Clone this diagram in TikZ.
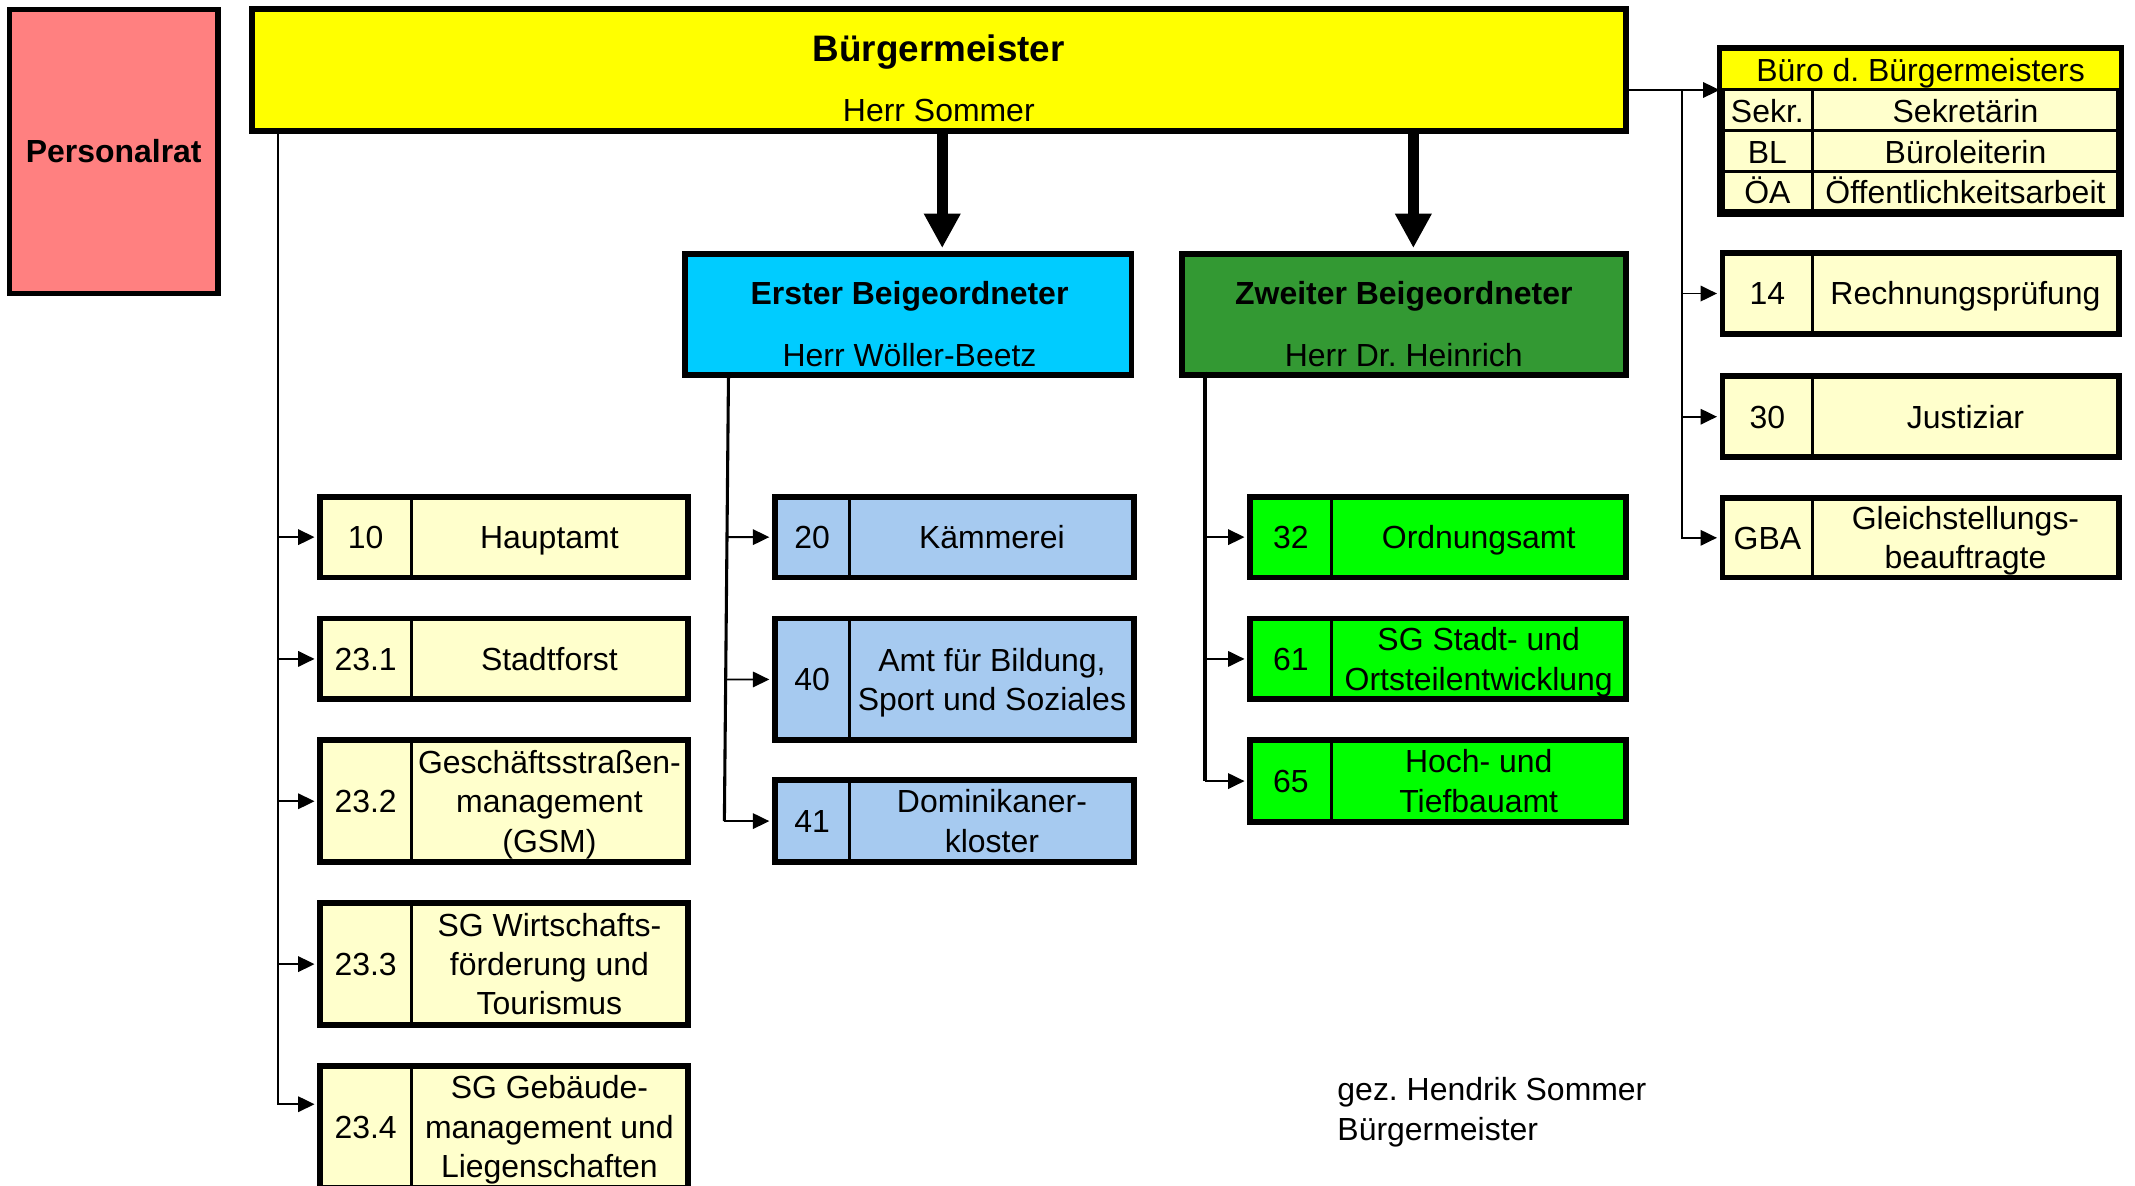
\documentclass[tikz,border=0pt]{standalone}
\usepackage{fontspec}
\setmainfont{Liberation Sans}
\usetikzlibrary{arrows.meta,fit,calc}
\frenchspacing
\definecolor{cPers}{HTML}{FF8080}
\definecolor{cBM}{HTML}{FFFF00}
\definecolor{cErst}{HTML}{00CCFF}
\definecolor{cZweit}{HTML}{339933}
\definecolor{cLight}{HTML}{FFFFCC}
\definecolor{cBlue}{HTML}{A6CAF0}
\definecolor{cGreen}{HTML}{00FF00}
\newcommand\tstrut{\rule[-4.6pt]{0pt}{21.75pt}}
\tikzset{
  box/.style={draw=black, line width=3.2pt, inner sep=0pt},
  divider/.style={line width=1.6pt},
  txt/.style={font=\fontsize{17.6}{21.75}\selectfont, align=center, inner sep=0pt,
    execute at begin node=\tstrut, execute at end node=\tstrut},
  ttl/.style={font=\bfseries\fontsize{17.6}{21.75}\selectfont, inner sep=0pt,
    execute at begin node=\tstrut},
  conn/.style={line width=1pt},
  trunk/.style={line width=1.7pt},
  arr/.style={conn, -{Triangle[length=9pt,width=8.5pt]}, shorten >=1.4pt},
  big/.style={line width=6pt, -{Triangle[length=19pt,width=19pt]}, shorten >=1.6pt},
}
\newcommand\deptbox[9]{%
  \node[box, fill=#7, fit={(#2,#3) (#4,#5)}] (#1) {};
  \draw[divider] (#6,#3) -- (#6,#5);
  \node[txt] (#1-num) at ($(#2,#3)!0.5!(#6,#5)$) {\tstrut#8\tstrut};
  \node[txt] (#1-lbl) at ($(#6,#3)!0.5!(#4,#5)$) {\tstrut#9\tstrut};
}
\begin{document}
\begin{tikzpicture}[x=0.75pt,y=-0.7538pt]
\useasboundingbox (0,0) rectangle (1568,866.6);
% Personalrat
\node[box, fill=cPers, fit={(7,7) (160,214.5)}] (pr) {};
\node[ttl] (pr-t) at (pr.center) {Personalrat};
% Buergermeister
\node[box, fill=cBM, fit={(185,6.5) (1194,95.5)}] (bm) {};
\node[ttl, font=\bfseries\fontsize{20.3}{24}\selectfont] (bm-t) at (689.5,36.5) {Bürgermeister};
\node[txt] (bm-n) at (689.5,80.5) {Herr Sommer};
% Erster
\node[box, fill=cErst, fit={(503,185.5) (831,274)}] (erster) {};
\node[ttl] (erster-t) at (668,214) {Erster Beigeordneter};
\node[txt] (erster-n) at (668,259.5) {Herr Wöller-Beetz};
% Zweiter
\node[box, fill=cZweit, fit={(868,185.5) (1194,274)}] (zweiter) {};
\node[ttl] (zweiter-t) at (1031,214) {Zweiter Beigeordneter};
\node[txt] (zweiter-n) at (1031,259.5) {Herr Dr. Heinrich};
% Buero
\node[box, fill=cLight, fit={(1265,37) (1556,154.5)}] (buero) {};
\node[fill=cBM, inner sep=0pt, fit={(1265,37) (1556,65.5)}] (bhead) {};
\draw[divider] (1265,65.5) -- (1556,65.5);
\draw[divider] (1265,95.3) -- (1556,95.3);
\draw[divider] (1265,125) -- (1556,125);
\draw[divider] (1331,65.5) -- (1331,154.5);
\draw[line width=3.2pt] (buero.north west) rectangle (buero.south east);
\node[txt] (bhead-t) at (1410.5,51.5) {Büro d. Bürgermeisters};
\node[txt] (b1a) at (1298,81) {Sekr.};
\node[txt] (b1b) at (1443.5,81) {Sekretärin};
\node[txt] (b2a) at (1298,111) {BL};
\node[txt] (b2b) at (1443.5,111) {Büroleiterin};
\node[txt] (b3a) at (1298,140.5) {ÖA};
\node[txt] (b3b) at (1443.5,140.5) {Öffentlichkeitsarbeit};
% departments
\deptbox{d10}{235}{363}{505}{422}{302}{cLight}{10}{Hauptamt}
\deptbox{d231}{235}{452}{505}{511}{302}{cLight}{23.1}{Stadtforst}
\deptbox{d232}{235}{541}{505}{630}{302}{cLight}{23.2}{Geschäftsstraßen-\\management\\(GSM)}
\deptbox{d233}{235}{660}{505}{749}{302}{cLight}{23.3}{SG Wirtschafts-\\förderung und\\Tourismus}
\deptbox{d234}{235}{779}{505}{868}{302}{cLight}{23.4}{SG Gebäude-\\management und\\Liegenschaften}
\deptbox{d20}{569}{363}{833}{422}{624}{cBlue}{20}{Kämmerei}
\deptbox{d40}{569}{452}{833}{541}{624}{cBlue}{40}{Amt für Bildung,\\Sport und Soziales}
\deptbox{d41}{569}{570}{833}{630}{624}{cBlue}{41}{Dominikaner-\\kloster}
\deptbox{d32}{918}{363}{1194}{422}{978}{cGreen}{32}{Ordnungsamt}
\deptbox{d61}{918}{452}{1194}{511}{978}{cGreen}{61}{SG Stadt- und\\Ortsteilentwicklung}
\deptbox{d65}{918}{541}{1194}{600.5}{978}{cGreen}{65}{Hoch- und\\Tiefbauamt}
\deptbox{d14}{1265}{185}{1556}{244}{1331}{cLight}{14}{Rechnungsprüfung}
\deptbox{d30}{1265}{275}{1556}{334}{1331}{cLight}{30}{Justiziar}
\deptbox{gba}{1265}{364}{1556}{422}{1331}{cLight}{GBA}{Gleichstellungs-\\beauftragte}
% connectors
\coordinate (lt) at (204,0);
\coordinate (mtop) at (535,0);
\coordinate (mbot) at (532,0);
\coordinate (zt) at (885,0);
\coordinate (rt) at (1235,0);
\coordinate (a1) at (692,0);
\coordinate (a2) at (1038,0);
\draw[big] (a1 |- bm.south) -- (a1 |- erster.north);
\draw[big] (a2 |- bm.south) -- (a2 |- zweiter.north);
% left trunk
\coordinate (c234) at ($(d234.north west)+(0,30)$);
\draw[arr] (lt |- bm.south) |- (c234);
\foreach \n in {d10,d231,d232,d233} \draw[arr] (lt |- \n.west) -- (\n.west);
% middle trunk
\draw[trunk] (mtop |- erster.south) -- (mbot |- d41.west);
\draw[arr] (mbot |- d41.west) -- (d41.west);
\draw[arr] ($(mtop |- d20.west)!0.5!(mbot |- d20.west)$) -- (d20.west);
\draw[arr] ($(mtop |- d40.west)!0.6!(mbot |- d40.west)$) -- (d40.west);
% zweiter trunk
\draw[trunk] ($(zt |- zweiter.south)+(0,-4.5)$) -- (zt |- d65.west);
\foreach \n in {d32,d61,d65} \draw[arr] (zt |- \n.west) -- (\n.west);
% buero trunk
\draw[arr] (bm.east |- bhead.south west) -- (bhead.south west);
\draw[arr] (rt |- bhead.south west) |- (gba.west);
\foreach \n in {d14,d30} \draw[arr] (rt |- \n.west) -- (\n.west);
% signature
\node[txt, anchor=west, align=left, font=\fontsize{17.6}{22.5}\selectfont] (sig) at (982,810.5) {\tstrut gez. Hendrik Sommer\\Bürgermeister\tstrut};
\end{tikzpicture}
\end{document}
